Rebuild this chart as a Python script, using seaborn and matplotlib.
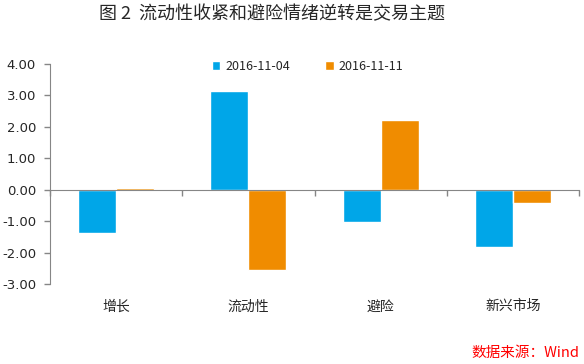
import pandas as pd
import numpy as np
import matplotlib
matplotlib.use('Agg')
import matplotlib.pyplot as plt
import seaborn as sns

# --- Data ---
categories = ['增长', '流动性', '避险', '新兴市场']
series_names = ['2016-11-04', '2016-11-11']
values_1104 = [-1.39, 3.13, -1.02, -1.82]
values_1111 = [0.04, -2.57, 2.23, -0.41]
y_ticks = [4.0, 3.0, 2.0, 1.0, 0.0, -1.0, -2.0, -3.0]

df = pd.DataFrame({
    'category': categories * 2,
    'date': [series_names[0]] * 4 + [series_names[1]] * 4,
    'value': values_1104 + values_1111,
})

sns.set_style('white')
plt.rcParams['font.family'] = ['Noto Sans CJK SC', 'DejaVu Sans']

fig = plt.figure(figsize=(5.84, 3.64), dpi=100)
ax = fig.add_axes([50 / 584, 1 - 284 / 364, (579 - 50) / 584, (284 - 64) / 364])

palette = {series_names[0]: '#00A6E8', series_names[1]: '#F08C00'}
sns.barplot(data=df, x='category', y='value', hue='date', order=categories,
            hue_order=series_names, palette=palette, width=0.576, gap=0,
            saturation=1, ax=ax, legend=True)

ax.set_xlim(-0.5, 3.5)
ax.set_ylim(-3, 4)
ax.set_yticks(y_ticks)
ax.set_yticklabels([f'{v:.2f}' for v in y_ticks], fontsize=9.5, family=['DejaVu Sans'])
ax.set_xlabel('')
ax.set_ylabel('')

# axes styling: left spine gray, x axis at zero
for s in ['top', 'right']:
    ax.spines[s].set_visible(False)
ax.spines['left'].set_color('#868686')
ax.spines['bottom'].set_color('#868686')
ax.spines['bottom'].set_position(('data', 0))
ax.set_xticks([-0.5, 0.5, 1.5, 2.5, 3.5])
ax.set_xticklabels([])
ax.tick_params(axis='x', direction='out', length=4, color='#868686', width=1, bottom=True)
ax.tick_params(axis='y', direction='out', length=4, color='#868686', width=1, left=True, pad=6)

# category labels below the plot
for i, c in enumerate(categories):
    ax.text(i, -0.07, c, transform=ax.get_xaxis_transform(), ha='center', va='top', fontsize=10)

leg = ax.legend(loc='upper center', bbox_to_anchor=(0.487, 1.07), ncol=2, frameon=False,
                fontsize=9, handlelength=0.7, handleheight=0.7, columnspacing=2.8, handletextpad=0.4)

fig.text(0.465, 0.96, '图 2  流动性收紧和避险情绪逆转是交易主题', ha='center', va='center',
         fontsize=13, fontweight='medium')
fig.text(0.993, 0.01, '数据来源：Wind', ha='right', va='bottom', fontsize=10.5,
         color='red', style='italic')

fig.savefig('out.png', dpi=100)
